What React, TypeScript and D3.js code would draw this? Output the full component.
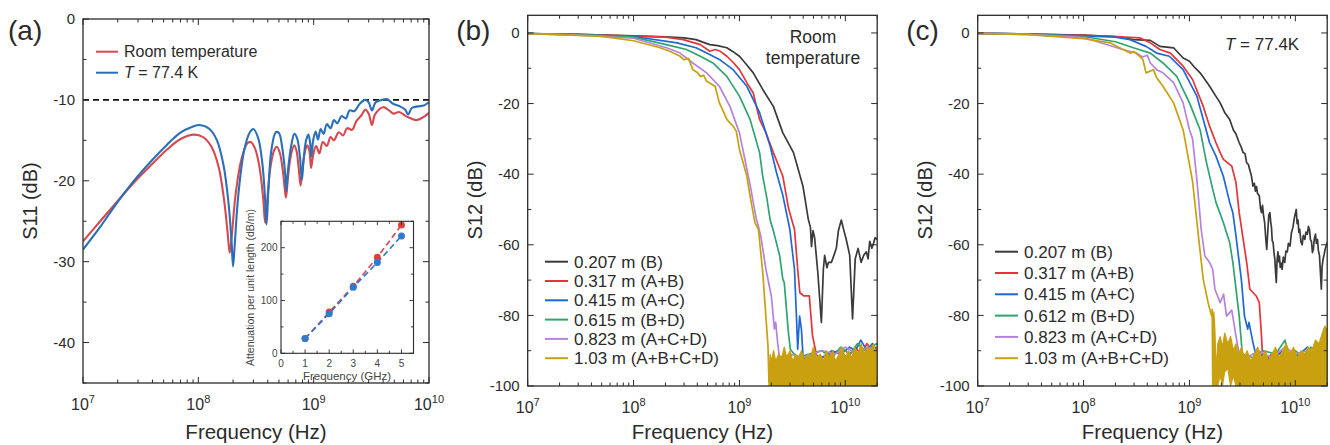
import * as d3 from 'd3'

type Pt = [number, number] // [frequency GHz, dB]
type Band = [number, number, number] // [frequency GHz, low dB, high dB]

const FONT = '"Liberation Sans", Arial, Helvetica, sans-serif'
const INK = '#2b2b2b'

// ---------- (a) S11 ----------
const s11Room: Pt[] = [
  [0.01, -27.5], [0.0141, -25.0], [0.02, -22.5], [0.0273, -20.3], [0.04, -17.9], [0.053, -16.2],
  [0.069, -14.9], [0.09, -14.3], [0.11, -14.6], [0.13, -15.8], [0.15, -18.3], [0.168, -22.6],
  [0.18, -26.6], [0.187, -28.9], [0.195, -26.8], [0.21, -21.8], [0.235, -17.5], [0.265, -15.4],
  [0.285, -15.2], [0.31, -16.0], [0.34, -18.4], [0.365, -22.2], [0.38, -25.2], [0.395, -22.6],
  [0.42, -18.5], [0.455, -16.2], [0.48, -15.8], [0.51, -16.6], [0.545, -19.2], [0.575, -22.1],
  [0.6, -19.4], [0.64, -16.6], [0.68, -15.6], [0.71, -16.3], [0.74, -18.3], [0.77, -20.6],
  [0.8, -18.5], [0.84, -16.4], [0.88, -15.6], [0.92, -16.4], [0.95, -18.4], [0.99, -16.8],
  [1.05, -15.7], [1.12, -16.6], [1.2, -15.2], [1.3, -15.7], [1.4, -14.6], [1.5, -15.0],
  [1.65, -14.0], [1.8, -14.4], [1.95, -13.5], [2.15, -13.7], [2.35, -12.6], [2.6, -11.9],
  [2.8, -11.2], [3.0, -11.7], [3.2, -13.1], [3.4, -11.8], [4.0, -10.9], [4.5, -11.3],
  [4.9, -11.7], [5.5, -11.5], [6.3, -12.0], [7.0, -12.3], [7.8, -12.5], [8.8, -12.2], [10, -11.6],
]
const s11Cold: Pt[] = [
  [0.01, -28.5], [0.0141, -25.7], [0.02, -22.6], [0.0273, -20.1], [0.04, -17.4], [0.053, -15.6],
  [0.069, -14.1], [0.09, -13.3], [0.102, -13.1], [0.125, -13.6], [0.145, -15.0], [0.165, -18.0],
  [0.182, -22.5], [0.194, -27.5], [0.2, -30.6], [0.207, -27.8], [0.222, -21.8], [0.25, -16.2],
  [0.28, -14.0], [0.3, -13.6], [0.33, -14.7], [0.36, -18.0], [0.378, -22.0], [0.39, -25.4],
  [0.405, -21.2], [0.43, -16.2], [0.47, -14.0], [0.5, -14.1], [0.535, -16.0], [0.565, -19.0],
  [0.58, -21.3], [0.6, -18.6], [0.64, -15.6], [0.68, -14.2], [0.72, -14.8], [0.76, -17.0],
  [0.79, -19.9], [0.82, -17.2], [0.86, -15.0], [0.9, -14.3], [0.93, -15.2], [0.955, -17.0],
  [0.99, -15.0], [1.04, -13.9], [1.09, -14.9], [1.15, -13.6], [1.22, -14.2], [1.3, -13.0],
  [1.4, -13.5], [1.5, -12.5], [1.6, -12.9], [1.75, -12.0], [1.9, -12.3], [2.05, -11.3],
  [2.25, -11.4], [2.5, -10.5], [2.8, -10.0], [3.0, -10.3], [3.2, -11.3], [3.45, -10.3],
  [3.9, -10.0], [4.3, -9.9], [4.9, -10.5], [5.6, -10.8], [6.2, -11.2], [6.6, -11.8],
  [7.1, -11.0], [8.0, -10.8], [9.0, -10.7], [10, -10.3],
]
const s11Ticks = [0, -10, -20, -30, -40]
const s11Minor = [-5, -15, -25, -35, -45]

// inset: attenuation per unit length
const insetFreq = [1, 2, 3, 4, 5]
const insetRoom = [28, 78, 127, 182, 243]
const insetCold = [28, 75, 125, 172, 222]
const insetXTicks = [0, 1, 2, 3, 4, 5]
const insetXMinor = [0.5, 1.5, 2.5, 3.5, 4.5, 5.5]
const insetYTicks = [0, 100, 200]
const insetYMinor = [50, 150, 250]

// ---------- (b), (c) S12 ----------
const namesRoom = ['0.207 m (B)', '0.317 m (A+B)', '0.415 m (A+C)', '0.615 m (B+D)', '0.823 m (A+C+D)', '1.03 m (A+B+C+D)']
const namesCold = ['0.207 m (B)', '0.317 m (A+B)', '0.415 m (A+C)', '0.612 m (B+D)', '0.823 m (A+C+D)', '1.03 m (A+B+C+D)']
const cableColors = ['#3a3a3a', '#e3353b', '#1f68d2', '#2ea46f', '#b583df', '#c9a00f']
const s12Ticks = [0, -20, -40, -60, -80, -100]
const s12Minor = [-10, -30, -50, -70, -90]

// room temperature
const rt207: Pt[] = [
  [0.01, -0.2], [0.03, -0.4], [0.1, -0.8], [0.2, -1.1], [0.3, -1.4], [0.39, -1.9], [0.45, -2.6],
  [0.525, -3.3], [0.62, -3.6], [0.76, -4.2], [0.87, -5.3], [1.0, -6.6], [1.17, -9.0], [1.35, -11.3],
  [1.66, -16], [2.09, -20.8], [2.57, -28.3], [3.24, -33.9], [3.98, -43.4], [4.47, -52.8], [4.68, -55],
  [4.79, -60.5], [4.95, -56], [5.13, -58], [5.5, -68], [5.94, -82], [6.2, -67], [6.38, -63],
  [6.7, -66.5], [6.92, -65], [7.38, -65], [7.8, -63], [8.22, -61], [8.6, -56], [9.16, -53],
  [9.7, -56], [10.2, -58.5], [11.0, -63], [11.7, -81], [12.4, -64], [13.2, -61], [14.1, -65],
  [14.9, -63], [15.8, -62], [16.4, -64], [17.0, -59], [17.8, -61], [18.5, -59.5], [19.1, -58], [20, -58.5],
]
const rt317: Pt[] = [
  [0.01, -0.2], [0.03, -0.4], [0.1, -0.9], [0.2, -1.2], [0.295, -1.9], [0.427, -3.3], [0.525, -5.2],
  [0.59, -4.7], [0.66, -5.2], [0.76, -6.6], [0.87, -8.3], [1.0, -10.4], [1.17, -14], [1.35, -17],
  [1.55, -24.5], [1.78, -28.3], [2.09, -33.9], [2.57, -40.6], [2.88, -49], [2.99, -51], [3.31, -55.6],
  [3.55, -67], [3.72, -73.6], [4.07, -74.5], [4.57, -74.5], [4.9, -85.8], [5.37, -91.5], [6.0, -92],
  [7.0, -91], [8.5, -90], [10.5, -92], [12.5, -89], [14, -91], [16, -88], [18, -90], [20, -89],
]
const rt415: Pt[] = [
  [0.01, -0.2], [0.03, -0.5], [0.1, -1.0], [0.257, -2.8], [0.389, -4.2], [0.49, -5.7], [0.646, -7.5],
  [0.871, -10.4], [1.175, -15.1], [1.55, -22.6], [1.95, -32.1], [2.24, -39.6], [2.57, -46], [2.99, -55.6],
  [3.31, -67], [3.45, -80], [3.55, -89.6], [3.62, -85], [3.7, -80.2], [3.85, -84], [4.0, -92.4], [4.8, -91],
  [6, -92], [7.5, -90], [9, -91], [11, -89], [12.5, -90], [14, -87], [16, -90], [18, -88], [20, -90],
]
const rt615: Pt[] = [
  [0.01, -0.2], [0.03, -0.5], [0.1, -1.2], [0.204, -3.3], [0.316, -4.7], [0.427, -6.6], [0.562, -8.5],
  [0.759, -12.3], [1.0, -17.9], [1.26, -24.5], [1.55, -33.9], [1.66, -40.6], [1.82, -47], [1.95, -53],
  [2.09, -56], [2.4, -63.2], [2.57, -69.8], [2.65, -70.7], [2.88, -83.9], [3.02, -89.6], [3.5, -92],
  [4.5, -91], [6, -90], [7.5, -92], [9, -89], [11, -91], [13, -88], [15, -90], [17, -89], [20, -88],
]
const rt823: Pt[] = [
  [0.01, -0.2], [0.03, -0.6], [0.1, -1.5], [0.204, -4.2], [0.275, -5.7], [0.363, -8.5], [0.49, -11.3],
  [0.646, -15.1], [0.813, -20.8], [1.0, -28.3], [1.26, -43], [1.35, -48], [1.45, -53], [1.51, -54.7],
  [1.6, -58], [1.78, -67], [2.0, -74.5], [2.14, -83.9], [2.2, -82], [2.3, -88], [2.4, -92.4], [3, -91],
  [4, -92], [6, -90], [8, -91], [10, -89], [13, -91], [16, -89], [20, -90],
]
const rt103: Pt[] = [
  [0.01, -0.2], [0.03, -0.7], [0.048, -0.9], [0.1, -2.2], [0.178, -4.2], [0.219, -5.2], [0.275, -6.6],
  [0.3, -7.6], [0.33, -7.2], [0.363, -10.4], [0.4, -11.2], [0.427, -12.3], [0.46, -12.0], [0.49, -13.7],
  [0.589, -15.1], [0.646, -19.8], [0.7, -22], [0.759, -24.5], [0.871, -26.4], [0.933, -27.8], [1.0, -33],
  [1.175, -40.6], [1.26, -46.2], [1.4, -53.7], [1.51, -55.6], [1.66, -67.9], [1.86, -88.7], [1.9, -99],
]
const rtFloor: Band[] = [
  [1.9, -100, -97], [1.95, -100, -91], [2.0, -100, -93], [2.1, -100, -90], [2.2, -100, -93],
  [2.35, -100, -91], [2.5, -100, -92], [2.65, -100, -89], [2.8, -100, -92], [3.0, -100, -90],
  [3.2, -100, -93], [3.4, -100, -91], [3.6, -100, -92], [3.85, -100, -90], [4.1, -100, -93],
  [4.4, -100, -91], [4.7, -100, -92], [5.0, -100, -89], [5.4, -100, -92], [5.8, -100, -91],
  [6.2, -100, -93], [6.6, -100, -90], [7.1, -100, -92], [7.6, -100, -90], [8.1, -100, -93],
  [8.7, -100, -91], [9.3, -100, -89], [10, -100, -92], [10.7, -100, -90], [11.5, -100, -92],
  [12.3, -100, -89], [13.2, -100, -91], [14.1, -100, -88], [15.1, -100, -91], [16.2, -100, -89],
  [17.3, -100, -90], [18.5, -100, -88], [19.5, -100, -91], [20, -100, -89],
]

// T = 77.4 K
const lt207: Pt[] = [
  [0.01, -0.1], [0.03, -0.3], [0.1, -0.6], [0.2, -1.0], [0.295, -1.9], [0.427, -2.1], [0.525, -3.8],
  [0.708, -4.2], [0.871, -7.1], [1.0, -8.0], [1.1, -9.5], [1.26, -11.3], [1.4, -13.2], [1.55, -15.1],
  [1.75, -17.6], [1.95, -19.8], [2.15, -22.5], [2.4, -24.5], [2.6, -27.5], [2.75, -28.6], [2.95, -31.1],
  [3.1, -32.5], [3.2, -33.8], [3.35, -34.2], [3.47, -36.8], [3.6, -37.2], [3.7, -38.6], [3.85, -40.5],
  [3.98, -43.4], [4.1, -42.6], [4.2, -44.8], [4.3, -43.5], [4.4, -45.5], [4.57, -46.2], [4.68, -49.5],
  [4.79, -50.9], [4.9, -48.8], [5.0, -51.5], [5.13, -53.7], [5.25, -58], [5.37, -61.3], [5.5, -56],
  [5.62, -51.5], [5.75, -50.9], [5.85, -53.5], [5.95, -55], [6.05, -58.8], [6.17, -59.4], [6.3, -62.5],
  [6.4, -64], [6.5, -67.5], [6.61, -70.7], [6.72, -64.5], [6.85, -62], [6.95, -64.8], [7.08, -63.2],
  [7.2, -66.4], [7.35, -65.2], [7.5, -67], [7.7, -63.5], [7.94, -65], [8.15, -61.8], [8.4, -62],
  [8.6, -59.6], [8.91, -60.4], [9.2, -56.5], [9.5, -55], [9.8, -52.3], [10.2, -50], [10.4, -54],
  [10.6, -53], [10.8, -56.5], [11.0, -55.6], [11.3, -59.2], [11.6, -60], [11.9, -57.3], [12.3, -58.5],
  [12.6, -56.4], [13.0, -57], [13.3, -54.8], [13.6, -55.6], [13.9, -58.6], [14.2, -59], [14.5, -62.2],
  [14.8, -61.3], [15.1, -58.4], [15.5, -57], [15.8, -59.6], [16.2, -58.5], [16.5, -61.6], [16.9, -63],
  [17.2, -67], [17.6, -72.6], [17.9, -66.2], [18.3, -64], [18.7, -62.8], [19.1, -61.3], [19.5, -60.4],
  [20, -59.3],
]
const lt317: Pt[] = [
  [0.01, -0.1], [0.03, -0.3], [0.1, -0.7], [0.2, -1.0], [0.339, -1.4], [0.427, -2.8], [0.525, -4.7],
  [0.661, -5.7], [0.871, -9.4], [1.07, -13.2], [1.35, -20.8], [1.55, -26.4], [1.78, -31.1], [1.95, -33.9],
  [2.09, -35.8], [2.51, -37.7], [2.75, -42.4], [2.95, -50.9], [3.47, -65], [3.72, -72.6], [4.27, -74.5],
  [4.57, -76.4], [4.79, -85.8], [4.9, -91.5], [5.5, -92], [6.5, -90], [8, -92], [10, -91], [12, -93],
  [14, -90], [16, -92], [18, -89], [20, -90],
]
const lt415: Pt[] = [
  [0.01, -0.1], [0.03, -0.3], [0.1, -0.8], [0.2, -1.2], [0.275, -1.9], [0.389, -3.8], [0.49, -5.7],
  [0.646, -6.6], [0.871, -10.4], [1.175, -17.9], [1.35, -24.5], [1.55, -31.1], [1.78, -34.9], [2.09, -40.6],
  [2.4, -48], [2.57, -50.9], [2.75, -57.5], [3.09, -69.8], [3.31, -80.2], [3.55, -83.9], [3.65, -82],
  [3.98, -87.7], [4.3, -92], [5, -91], [6, -93], [7.5, -90], [9, -92], [11, -91], [13, -89], [15, -92],
  [17, -90], [20, -91],
]
const lt612: Pt[] = [
  [0.01, -0.1], [0.03, -0.3], [0.1, -1.0], [0.2, -2.5], [0.295, -4.2], [0.427, -5.7], [0.562, -8.5],
  [0.759, -12.3], [1.0, -19.8], [1.07, -22], [1.26, -27.4], [1.45, -36.8], [1.66, -44.3], [1.78, -48],
  [2.09, -53.7], [2.4, -59.4], [2.57, -65], [2.95, -80.2], [3.16, -91], [4, -92], [5, -90], [6.5, -91],
  [8, -87], [8.5, -91], [10, -90], [12, -92], [14, -89], [17, -91], [20, -88],
]
const lt823: Pt[] = [
  [0.01, -0.1], [0.03, -0.4], [0.1, -1.3], [0.234, -4.7], [0.316, -5.7], [0.36, -6.8], [0.4, -6.3],
  [0.427, -8.5], [0.49, -10.4], [0.562, -11.3], [0.708, -14.1], [0.871, -19.8], [1.0, -27.4], [1.07, -30],
  [1.175, -41.5], [1.29, -55.6], [1.4, -63.2], [1.55, -65], [1.66, -67], [1.74, -72.6], [1.95, -76.4],
  [2.1, -74], [2.24, -80.2], [2.51, -78.5], [2.75, -85.8], [2.95, -91], [3.5, -92], [4.5, -90], [6, -92],
  [8, -89], [10, -91], [13, -90], [16, -92], [20, -89],
]
const lt103: Pt[] = [
  [0.01, -0.1], [0.03, -0.5], [0.1, -1.6], [0.178, -2.8], [0.219, -4.2], [0.275, -5.7], [0.3, -5.3],
  [0.363, -7.5], [0.389, -11.3], [0.457, -10.4], [0.49, -12.7], [0.562, -15.1], [0.708, -19.8],
  [0.871, -27.4], [1.07, -42], [1.2, -56], [1.35, -69.8], [1.5, -76.4], [1.62, -80.2], [1.64, -78.3],
  [1.66, -100],
]
const ltFloor: Band[] = [
  [1.66, -100, -82], [1.7, -100, -79], [1.74, -99, -84], [1.78, -100, -96], [1.85, -100, -88],
  [1.95, -97, -86], [2.05, -100, -89], [2.15, -96, -85], [2.3, -95, -88], [2.45, -100, -86],
  [2.6, -97, -90], [2.75, -100, -88], [2.9, -100, -91], [3.1, -100, -89], [3.3, -100, -92],
  [3.5, -100, -90], [3.8, -100, -93], [4.1, -100, -91], [4.4, -100, -89], [4.8, -100, -92],
  [5.2, -100, -90], [5.6, -100, -93], [6.0, -100, -91], [6.5, -100, -89], [7.0, -100, -92],
  [7.6, -100, -90], [8.2, -100, -88], [8.9, -100, -91], [9.6, -100, -89], [10.4, -100, -92],
  [11.3, -100, -90], [12.2, -100, -91], [13.2, -100, -89], [14.3, -100, -90], [15.5, -100, -87],
  [16.7, -100, -88], [18, -100, -85], [19, -100, -83], [20, -100, -84],
]

const logTicks = (lo: number, hi: number) => {
  const out: { v: number; major: boolean }[] = []
  for (let e = Math.floor(Math.log10(lo)); e <= Math.ceil(Math.log10(hi)); e++) {
    for (let k = 1; k < 10; k++) {
      const v = k * Math.pow(10, e)
      if (v >= lo * 0.999 && v <= hi * 1.001) out.push({ v, major: k === 1 })
    }
  }
  return out
}

function Axes({ x, y, yMajor, yMinor }: any) {
  const [x0, x1] = x.range()
  const [y0, y1] = y.range()
  const xt = logTicks(x.domain()[0], x.domain()[1])
  return (
    <g stroke={INK}>
      {xt.map((t, i) => {
        const px = x(t.v)
        const L = t.major ? 6 : 3.5
        return (
          <g key={'x' + i} strokeWidth={1}>
            <line x1={px} x2={px} y1={y0} y2={y0 - L} />
            <line x1={px} x2={px} y1={y1} y2={y1 + L} />
          </g>
        )
      })}
      {yMajor.concat(yMinor).map((v: number, i: number) => {
        const py = y(v)
        const L = i < yMajor.length ? 6 : 3.5
        return (
          <g key={'y' + i} strokeWidth={1}>
            <line x1={x0} x2={x0 + L} y1={py} y2={py} />
            <line x1={x1} x2={x1 - L} y1={py} y2={py} />
          </g>
        )
      })}
      <rect x={x0} y={y1} width={x1 - x0} height={y0 - y1} fill="none" strokeWidth={1.3} />
      <g stroke="none" fill={INK}>
        {xt.filter(t => t.major).map((t, i) => (
          <text key={'xl' + i} x={x(t.v)} y={y0 + 27} textAnchor="middle" fontSize={16}>
            10<tspan dy={-7} fontSize={11}>{Math.round(Math.log10(t.v * 1e9))}</tspan>
          </text>
        ))}
        {yMajor.map((v: number, i: number) => (
          <text key={'yl' + i} x={x0 - 8} y={y(v)} dy="0.35em" textAnchor="end" fontSize={15}>
            {v}
          </text>
        ))}
        <text x={(x0 + x1) / 2} y={439} textAnchor="middle" fontSize={20.5}>
          Frequency (Hz)
        </text>
      </g>
    </g>
  )
}

function PanelA() {
  const x = d3.scaleLog().domain([0.01, 10]).range([83, 429])
  const y = d3.scaleLinear().domain([-45, 0]).range([383, 19])
  const line = d3.line<Pt>().x(d => x(d[0])).y(d => y(d[1])).curve(d3.curveCatmullRom.alpha(0.5))

  const ix = d3.scaleLinear().domain([0, 5.5]).range([281, 413.5])
  const iy = d3.scaleLinear().domain([0, 250]).range([353.3, 221.3])
  const iline = (vals: number[]) =>
    d3.line<number>().x((_, i) => ix(insetFreq[i])).y(d => iy(d))(vals) || ''

  return (
    <g>
      <text x={8} y={40} fontSize={28} fill={INK}>(a)</text>
      <text transform="translate(36.5,201) rotate(-90)" textAnchor="middle" fontSize={20} fill={INK}>
        S11 (dB)
      </text>
      <defs>
        <clipPath id="clipA"><rect x={83} y={19} width={346} height={364} /></clipPath>
      </defs>
      <g clipPath="url(#clipA)">
        <line x1={83} x2={429} y1={y(-10)} y2={y(-10)} stroke="#111" strokeWidth={1.6} strokeDasharray="6 4" />
        <path d={line(s11Room) || ''} fill="none" stroke="#d64a4f" strokeWidth={2.1} />
        <path d={line(s11Cold) || ''} fill="none" stroke="#2b6fb7" strokeWidth={2.1} />
      </g>
      <Axes x={x} y={y} yMajor={s11Ticks} yMinor={s11Minor} />

      {/* legend */}
      <line x1={96} x2={118} y1={51.7} y2={51.7} stroke="#d64a4f" strokeWidth={2} />
      <text x={124} y={57} fontSize={16} fill={INK}>Room temperature</text>
      <line x1={96} x2={118} y1={72.7} y2={72.7} stroke="#2b6fb7" strokeWidth={2} />
      <text x={124} y={78} fontSize={16} fill={INK}>
        <tspan fontStyle="italic">T</tspan> = 77.4 K
      </text>

      {/* inset */}
      <rect x={281} y={221.3} width={132.5} height={132} fill="#fff" />
      <path d={iline(insetRoom)} fill="none" stroke="#d9474c" strokeWidth={1.6} strokeDasharray="6 3.5" />
      <path d={iline(insetCold)} fill="none" stroke="#2f78c9" strokeWidth={1.6} strokeDasharray="6 3.5" />
      {insetRoom.map((v, i) => (
        <circle key={'r' + i} cx={ix(insetFreq[i])} cy={iy(v)} r={3.5} fill="#e0403f" />
      ))}
      {insetCold.map((v, i) => (
        <circle key={'c' + i} cx={ix(insetFreq[i])} cy={iy(v)} r={3.5} fill="#2f7bd0" />
      ))}
      <g stroke={INK} strokeWidth={0.9}>
        {insetXTicks.concat(insetXMinor).map((v, i) => {
          const L = i < insetXTicks.length ? 4 : 2.5
          return (
            <g key={'ix' + i}>
              <line x1={ix(v)} x2={ix(v)} y1={353.3} y2={353.3 - L} />
              <line x1={ix(v)} x2={ix(v)} y1={221.3} y2={221.3 + L} />
            </g>
          )
        })}
        {insetYTicks.concat(insetYMinor).map((v, i) => {
          const L = i < insetYTicks.length ? 4 : 2.5
          return (
            <g key={'iy' + i}>
              <line x1={281} x2={281 + L} y1={iy(v)} y2={iy(v)} />
              <line x1={413.5} x2={413.5 - L} y1={iy(v)} y2={iy(v)} />
            </g>
          )
        })}
        <rect x={281} y={221.3} width={132.5} height={132} fill="none" strokeWidth={1.1} />
      </g>
      <g fill="#444">
        {insetXTicks.map((v, i) => (
          <text key={'ixl' + i} x={ix(v)} y={366.5} textAnchor="middle" fontSize={10}>{v}</text>
        ))}
        {insetYTicks.map((v, i) => (
          <text key={'iyl' + i} x={277.5} y={iy(v)} dy="0.35em" textAnchor="end" fontSize={10}>{v}</text>
        ))}
        <text x={347} y={379.5} textAnchor="middle" fontSize={11.5}>Frequency (GHz)</text>
        <text transform="translate(254,287.5) rotate(-90)" textAnchor="middle" fontSize={10.5}>
          Attenuation per unit length (dB/m)
        </text>
      </g>
    </g>
  )
}

function PanelS12({ left, label, names, series, floor, leg, clipId, children }: any) {
  const x = d3.scaleLog().domain([0.01, 20]).range([left, left + 349.5])
  const y = d3.scaleLinear().domain([-100, 5]).range([386, 15.3])
  const line = d3.line<Pt>().x(d => x(d[0])).y(d => y(d[1]))
  const area = d3.area<Band>().x(d => x(d[0])).y0(d => y(d[1])).y1(d => y(d[2]))
  const gold = cableColors[5]
  return (
    <g>
      <text x={left - 71.5} y={40} fontSize={28} fill={INK}>{label}</text>
      <text transform={`translate(${left - 45.5},200) rotate(-90)`} textAnchor="middle" fontSize={20} fill={INK}>
        S12 (dB)
      </text>
      <defs>
        <clipPath id={clipId}><rect x={left} y={15.3} width={349.5} height={370.7} /></clipPath>
      </defs>
      <g clipPath={`url(#${clipId})`}>
        {series.map((s: Pt[], i: number) => (
          <path key={i} d={line(s) || ''} fill="none" stroke={cableColors[i]} strokeWidth={1.7} strokeLinejoin="round" />
        ))}
        <path d={area(floor) || ''} fill={gold} stroke={gold} strokeWidth={1.2} strokeLinejoin="round" />
      </g>
      <Axes x={x} y={y} yMajor={s12Ticks} yMinor={s12Minor} />
      {names.map((n: string, i: number) => (
        <g key={n}>
          <line x1={leg.x} x2={leg.x + 23} y1={leg.y + i * leg.dy} y2={leg.y + i * leg.dy} stroke={cableColors[i]} strokeWidth={2} />
          <text x={leg.x + 29} y={leg.y + i * leg.dy + 6} fontSize={17} fill={INK}>{n}</text>
        </g>
      ))}
      {children}
    </g>
  )
}

export default function App() {
  return (
    <svg
      width={1330}
      height={445}
      style={{ position: 'absolute', left: 0, top: 0, background: '#fff', display: 'block' }}
      fontFamily={FONT}
    >
      <rect width={1330} height={445} fill="#fff" />
      <PanelA />
      <PanelS12
        left={527.7}
        label="(b)"
        names={namesRoom}
        series={[rt207, rt317, rt415, rt615, rt823, rt103]}
        floor={rtFloor}
        leg={{ x: 545, y: 261.7, dy: 19.3 }}
        clipId="clipB"
      >
        <text x={813} y={43.3} textAnchor="middle" fontSize={17.5} fill={INK}>Room</text>
        <text x={813} y={63.5} textAnchor="middle" fontSize={17.5} fill={INK}>temperature</text>
      </PanelS12>
      <PanelS12
        left={977.7}
        label="(c)"
        names={namesCold}
        series={[lt207, lt317, lt415, lt612, lt823, lt103]}
        floor={ltFloor}
        leg={{ x: 995, y: 251.7, dy: 21.3 }}
        clipId="clipC"
      >
        <text x={1225} y={50} fontSize={17} fill={INK}>
          <tspan fontStyle="italic">T</tspan> = 77.4K
        </text>
      </PanelS12>
    </svg>
  )
}
